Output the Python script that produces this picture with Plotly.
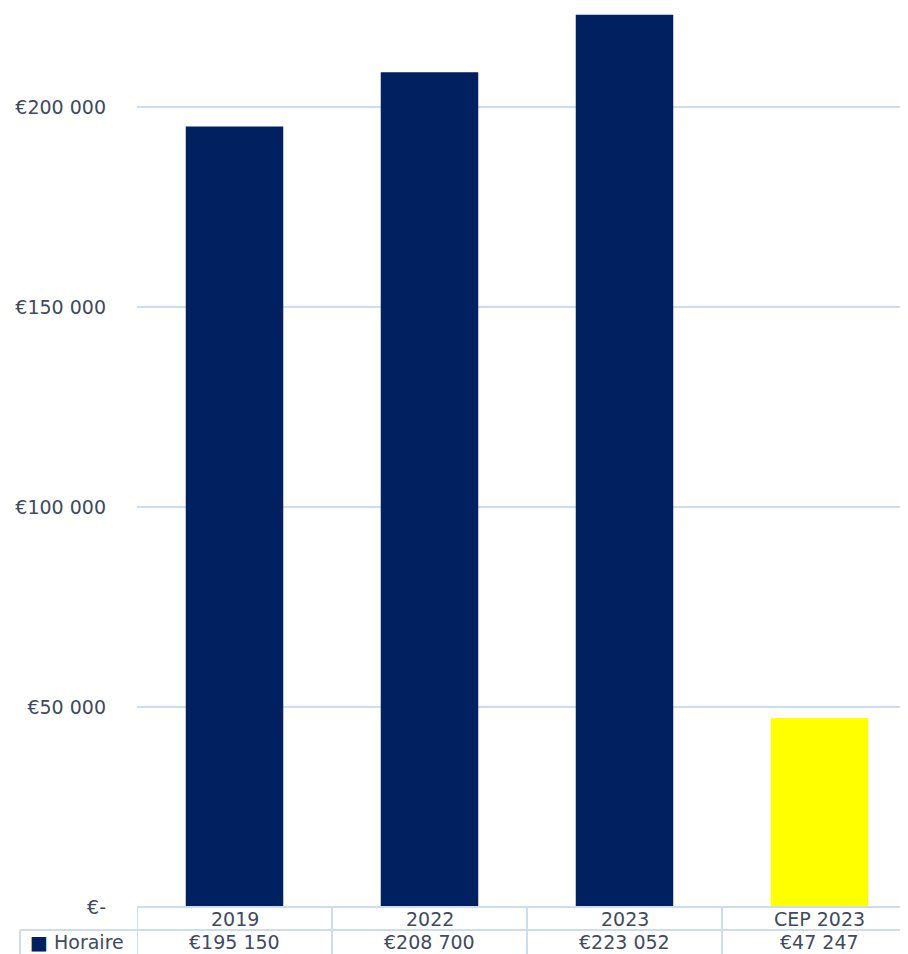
import plotly.graph_objects as go

categories = ["2019", "2022", "2023", "CEP 2023"]
values = [195150, 208700, 223052, 47247]
bar_colors = ["#002060", "#002060", "#002060", "#ffff00"]
series_name = "Horaire"
tick_values = [0, 50000, 100000, 150000, 200000]


def euro(v):
    if v == 0:
        return "€-"
    return "€" + f"{v:,}".replace(",", " ")


tick_labels = [euro(v) for v in tick_values]
value_labels = [euro(v) for v in values]

# page has an 8px body margin; compensate so the figure fills the 908x954 view
OFF = 8
W, H = 908 - OFF, 954 - OFF
ML, MT, MB = 137 - OFF, 0, 47
plot_h = H - MT - MB
plot_w = W - ML
cat_px = 195.0
x_max = -0.5 + plot_w / cat_px
y_max = plot_h * 250  # 4 px per 1000

text_color = "#3e4a5f"
grid_color = "#cddcf0"
font_family = "DejaVu Sans"
fsize = 19

fig = go.Figure()
fig.add_trace(go.Bar(
    x=list(range(len(categories))), y=values, marker_color=bar_colors,
    marker_line_width=0, width=0.5, name=series_name, showlegend=False,
))


def py(px):
    # pixel offset below plot bottom -> paper coordinate
    return -px / plot_h


row1_bot = py(23)
row2_bot = py(47)
left_cell = (20 - OFF - ML) / plot_w

shapes = []
shapes.append(dict(type="line", xref="x", yref="paper", x0=-0.5, x1=x_max + 1, y0=0, y1=0,
                   line=dict(color=grid_color, width=2)))
shapes.append(dict(type="line", xref="paper", yref="paper", x0=left_cell, x1=1.02,
                   y0=row1_bot, y1=row1_bot, line=dict(color=grid_color, width=2)))
for i in range(len(categories)):
    shapes.append(dict(type="line", xref="x", yref="paper", x0=i - 0.5, x1=i - 0.5,
                       y0=0, y1=row2_bot, line=dict(color=grid_color, width=2)))
shapes.append(dict(type="line", xref="paper", yref="paper", x0=left_cell, x1=left_cell,
                   y0=row1_bot, y1=row2_bot, line=dict(color=grid_color, width=2)))

annotations = []
for i, (c, v) in enumerate(zip(categories, value_labels)):
    annotations.append(dict(x=i, y=py(11.5), xref="x", yref="paper", text=c, showarrow=False,
                            font=dict(family=font_family, size=fsize, color=text_color),
                            xanchor="center", yanchor="middle"))
    annotations.append(dict(x=i, y=py(35), xref="x", yref="paper", text=v, showarrow=False,
                            font=dict(family=font_family, size=fsize, color=text_color),
                            xanchor="center", yanchor="middle"))
annotations.append(dict(x=(28 - OFF - ML) / plot_w, y=py(35), xref="paper", yref="paper",
                        text=f"<span style='color:#002060'>■</span> {series_name}", showarrow=False,
                        font=dict(family=font_family, size=fsize, color=text_color),
                        xanchor="left", yanchor="middle"))

fig.update_layout(
    width=W, height=H,
    margin=dict(l=ML, r=0, t=MT, b=MB, pad=0),
    paper_bgcolor="white", plot_bgcolor="white",
    showlegend=False,
    xaxis=dict(range=[-0.5, x_max], showticklabels=False, showgrid=False, zeroline=False,
               showline=False, ticks="", fixedrange=True),
    yaxis=dict(range=[0, y_max], tickvals=tick_values, ticktext=tick_labels,
               showgrid=True, gridcolor=grid_color, gridwidth=2, zeroline=False, showline=False,
               ticks="", ticklabelstandoff=30,
               tickfont=dict(family=font_family, size=fsize, color=text_color)),
    shapes=shapes, annotations=annotations,
)

fig.write_html("out.html")
